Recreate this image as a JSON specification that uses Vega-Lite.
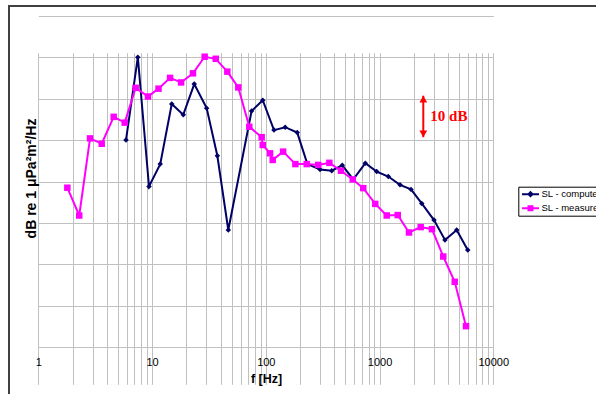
{
  "$schema": "https://vega.github.io/schema/vega-lite/v6.json",
  "width": 587,
  "height": 388,
  "padding": {"left": 9, "top": 6, "right": 0, "bottom": 0},
  "autosize": {"type": "none"},
  "background": "white",
  "config": {
    "view": {"stroke": "#404040", "strokeWidth": 2, "strokeDash": [587, 975, 390]},
    "font": "Liberation Sans",
    "axis": {
      "gridColor": "#c0c0c0",
      "gridWidth": 1,
      "domain": false,
      "ticks": false,
      "tickSize": 0,
      "labelColor": "black",
      "titleColor": "black"
    }
  },
  "datasets": {
    "sl": [
      {"series": "SL - computed", "f": 5.9, "db": 50.0},
      {"series": "SL - computed", "f": 7.5, "db": 70.0},
      {"series": "SL - computed", "f": 9.4, "db": 38.8},
      {"series": "SL - computed", "f": 11.8, "db": 44.2},
      {"series": "SL - computed", "f": 14.9, "db": 58.7},
      {"series": "SL - computed", "f": 18.8, "db": 56.1},
      {"series": "SL - computed", "f": 23.5, "db": 63.5},
      {"series": "SL - computed", "f": 30.2, "db": 57.7},
      {"series": "SL - computed", "f": 37.5, "db": 46.2},
      {"series": "SL - computed", "f": 46.8, "db": 28.3},
      {"series": "SL - computed", "f": 75, "db": 57.0},
      {"series": "SL - computed", "f": 94, "db": 59.6},
      {"series": "SL - computed", "f": 118, "db": 52.4},
      {"series": "SL - computed", "f": 148, "db": 53.1},
      {"series": "SL - computed", "f": 189, "db": 51.8},
      {"series": "SL - computed", "f": 232, "db": 44.2},
      {"series": "SL - computed", "f": 300, "db": 42.9},
      {"series": "SL - computed", "f": 380, "db": 42.6},
      {"series": "SL - computed", "f": 470, "db": 43.9},
      {"series": "SL - computed", "f": 588, "db": 40.5},
      {"series": "SL - computed", "f": 750, "db": 44.4},
      {"series": "SL - computed", "f": 944, "db": 42.4},
      {"series": "SL - computed", "f": 1194, "db": 41.2},
      {"series": "SL - computed", "f": 1513, "db": 39.2},
      {"series": "SL - computed", "f": 1890, "db": 38.1},
      {"series": "SL - computed", "f": 2349, "db": 34.7},
      {"series": "SL - computed", "f": 3012, "db": 30.7},
      {"series": "SL - computed", "f": 3760, "db": 25.9},
      {"series": "SL - computed", "f": 4767, "db": 28.3},
      {"series": "SL - computed", "f": 5960, "db": 23.5},
      {"series": "SL - measured", "f": 1.8, "db": 38.5},
      {"series": "SL - measured", "f": 2.29, "db": 31.8},
      {"series": "SL - measured", "f": 2.85, "db": 50.4},
      {"series": "SL - measured", "f": 3.61, "db": 49.1},
      {"series": "SL - measured", "f": 4.6, "db": 55.6},
      {"series": "SL - measured", "f": 5.75, "db": 54.2},
      {"series": "SL - measured", "f": 7.18, "db": 62.6},
      {"series": "SL - measured", "f": 9.21, "db": 60.5},
      {"series": "SL - measured", "f": 11.4, "db": 62.4},
      {"series": "SL - measured", "f": 14.4, "db": 65.0},
      {"series": "SL - measured", "f": 18.0, "db": 63.9},
      {"series": "SL - measured", "f": 22.9, "db": 66.1},
      {"series": "SL - measured", "f": 29.0, "db": 70.1},
      {"series": "SL - measured", "f": 36.3, "db": 69.6},
      {"series": "SL - measured", "f": 45.9, "db": 66.5},
      {"series": "SL - measured", "f": 57.3, "db": 62.7},
      {"series": "SL - measured", "f": 71.6, "db": 53.2},
      {"series": "SL - measured", "f": 92, "db": 50.7},
      {"series": "SL - measured", "f": 94, "db": 48.8},
      {"series": "SL - measured", "f": 109, "db": 46.8},
      {"series": "SL - measured", "f": 115, "db": 45.2},
      {"series": "SL - measured", "f": 142, "db": 47.2},
      {"series": "SL - measured", "f": 182, "db": 44.2},
      {"series": "SL - measured", "f": 229, "db": 44.2},
      {"series": "SL - measured", "f": 289, "db": 44.0},
      {"series": "SL - measured", "f": 362, "db": 44.5},
      {"series": "SL - measured", "f": 458, "db": 42.6},
      {"series": "SL - measured", "f": 581, "db": 40.5},
      {"series": "SL - measured", "f": 719, "db": 38.4},
      {"series": "SL - measured", "f": 917, "db": 34.6},
      {"series": "SL - measured", "f": 1156, "db": 31.8},
      {"series": "SL - measured", "f": 1445, "db": 31.9},
      {"series": "SL - measured", "f": 1815, "db": 27.7},
      {"series": "SL - measured", "f": 2300, "db": 29.0},
      {"series": "SL - measured", "f": 2890, "db": 28.5},
      {"series": "SL - measured", "f": 3632, "db": 21.9},
      {"series": "SL - measured", "f": 4580, "db": 15.8},
      {"series": "SL - measured", "f": 5755, "db": 5.1}
    ],
    "scalebar": [
      {"f": 2424, "db": 50.7, "end": "low"},
      {"f": 2424, "db": 60.7, "end": "high"},
      {"f": 2424, "db": 55.7, "end": "mid", "label": "10 dB"}
    ]
  },
  "data": {"name": "sl"},
  "encoding": {
    "x": {
      "field": "f",
      "type": "quantitative",
      "scale": {"type": "log", "domain": [1, 10000], "range": [29.3, 484.3], "nice": false},
      "axis": {
        "title": "f [Hz]",
        "grid": true,
        "values": [1, 2, 3, 4, 5, 6, 7, 8, 9, 10, 20, 30, 40, 50, 60, 70, 80, 90, 100, 200, 300, 400, 500, 600, 700, 800, 900, 1000, 2000, 3000, 4000, 5000, 6000, 7000, 8000, 9000, 10000],
        "labelExpr": "indexof([1, 10, 100, 1000, 10000], datum.value) >= 0 ? format(datum.value, 'd') : ''",
        "labelOverlap": false,
        "labelFlush": false,
        "labelBound": false,
        "labelFont": "Liberation Sans",
        "labelFontSize": 11,
        "labelBaseline": "alphabetic",
        "labelPadding": -29,
        "titleFont": "Liberation Sans",
        "titleFontSize": 12.5,
        "titleFontWeight": "bold",
        "titleX": 257,
        "titleY": -12,
        "titleAlign": "center",
        "titleBaseline": "alphabetic"
      }
    },
    "y": {
      "field": "db",
      "type": "quantitative",
      "scale": {"domain": [0, 80], "range": [341.3, 9.7], "nice": false, "zero": false},
      "axis": {
        "title": "dB re 1 μPa²m²/Hz",
        "grid": true,
        "labels": false,
        "values": [0, 10, 20, 30, 40, 50, 60, 70, 80],
        "titleFont": "Liberation Sans",
        "titleFontSize": 14,
        "titleFontWeight": "bold",
        "titleAngle": 270,
        "titleX": 26.5,
        "titleY": 172,
        "titleAlign": "center",
        "titleBaseline": "alphabetic"
      }
    }
  },
  "layer": [
    {
      "transform": [{"filter": "datum.series === 'SL - computed'"}],
      "mark": {"type": "line", "strokeWidth": 2},
      "encoding": {
        "color": {
          "field": "series",
          "type": "nominal",
          "scale": {"domain": ["SL - computed", "SL - measured"], "range": ["#000066", "#ff00ff"]},
          "legend": {
            "title": null,
            "orient": "none",
            "legendX": 509.3,
            "legendY": 180.7,
            "strokeColor": "black",
            "padding": 1.5,
            "rowPadding": 2,
            "symbolSize": 100,
            "symbolStrokeWidth": 2,
            "symbolOffset": 4.7,
            "labelOffset": 5,
            "labelFont": "Liberation Sans",
            "labelFontSize": 9.5,
            "labelColor": "black",
            "encode": {
              "symbols": {
                "update": {
                  "shape": {"signal": "datum.value === 'SL - computed' ? 'M-1.7,0H1.7M0,-0.4L0.4,0L0,0.4L-0.4,0Z' : 'M-1.7,0H1.7M-0.4,-0.4H0.4V0.4H-0.4Z'"},
                  "fill": {"scale": "color", "field": "value"},
                  "stroke": {"scale": "color", "field": "value"},
                  "strokeWidth": {"value": 2}
                }
              }
            }
          }
        }
      }
    },
    {
      "transform": [{"filter": "datum.series === 'SL - computed'"}],
      "mark": {"type": "point", "shape": "diamond", "filled": true, "size": 30, "opacity": 1},
      "encoding": {"color": {"field": "series", "type": "nominal"}}
    },
    {
      "transform": [{"filter": "datum.series === 'SL - measured'"}],
      "mark": {"type": "line", "strokeWidth": 2},
      "encoding": {"color": {"field": "series", "type": "nominal"}}
    },
    {
      "transform": [{"filter": "datum.series === 'SL - measured'"}],
      "mark": {"type": "point", "shape": "square", "filled": true, "size": 42, "opacity": 1},
      "encoding": {"color": {"field": "series", "type": "nominal"}}
    },
    {
      "data": {"name": "scalebar"},
      "transform": [{"filter": "datum.end !== 'mid'"}],
      "mark": {"type": "line", "color": "#ff0000", "strokeWidth": 2},
      "encoding": {}
    },
    {
      "data": {"name": "scalebar"},
      "transform": [{"filter": "datum.end === 'high'"}],
      "mark": {"type": "point", "shape": "triangle-up", "filled": true, "color": "#ff0000", "size": 60, "opacity": 1, "yOffset": 3.35},
      "encoding": {}
    },
    {
      "data": {"name": "scalebar"},
      "transform": [{"filter": "datum.end === 'low'"}],
      "mark": {"type": "point", "shape": "triangle-down", "filled": true, "color": "#ff0000", "size": 60, "opacity": 1, "yOffset": -3.35},
      "encoding": {}
    },
    {
      "data": {"name": "scalebar"},
      "transform": [{"filter": "datum.end === 'mid'"}],
      "mark": {"type": "text", "align": "left", "baseline": "middle", "dx": 7, "font": "Liberation Serif", "fontWeight": "bold", "fontSize": 15, "color": "#ff0000"},
      "encoding": {"text": {"field": "label"}}
    }
  ]
}
